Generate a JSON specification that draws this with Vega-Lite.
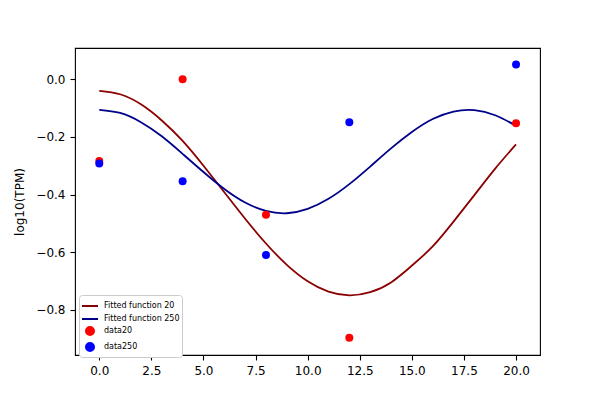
{
  "$schema": "https://vega.github.io/schema/vega-lite/v6.json",
  "autosize": "none",
  "width": 465,
  "height": 307,
  "padding": {"left": 75, "top": 48, "right": 60, "bottom": 45},
  "background": "white",
  "datasets": {
    "fits": [
      {"t": 0, "v": -0.040, "series": "Fitted function 20"},
      {"t": 1, "v": -0.052, "series": "Fitted function 20"},
      {"t": 2, "v": -0.087, "series": "Fitted function 20"},
      {"t": 3, "v": -0.143, "series": "Fitted function 20"},
      {"t": 4, "v": -0.214, "series": "Fitted function 20"},
      {"t": 5, "v": -0.300, "series": "Fitted function 20"},
      {"t": 6, "v": -0.392, "series": "Fitted function 20"},
      {"t": 7, "v": -0.484, "series": "Fitted function 20"},
      {"t": 8, "v": -0.570, "series": "Fitted function 20"},
      {"t": 9, "v": -0.644, "series": "Fitted function 20"},
      {"t": 10, "v": -0.701, "series": "Fitted function 20"},
      {"t": 11, "v": -0.737, "series": "Fitted function 20"},
      {"t": 12, "v": -0.750, "series": "Fitted function 20"},
      {"t": 13, "v": -0.739, "series": "Fitted function 20"},
      {"t": 14, "v": -0.705, "series": "Fitted function 20"},
      {"t": 15, "v": -0.647, "series": "Fitted function 20"},
      {"t": 16, "v": -0.580, "series": "Fitted function 20"},
      {"t": 17, "v": -0.494, "series": "Fitted function 20"},
      {"t": 18, "v": -0.402, "series": "Fitted function 20"},
      {"t": 19, "v": -0.310, "series": "Fitted function 20"},
      {"t": 20, "v": -0.226, "series": "Fitted function 20"},
      {"t": 0, "v": -0.106, "series": "Fitted function 250"},
      {"t": 1, "v": -0.117, "series": "Fitted function 250"},
      {"t": 2, "v": -0.149, "series": "Fitted function 250"},
      {"t": 3, "v": -0.198, "series": "Fitted function 250"},
      {"t": 4, "v": -0.259, "series": "Fitted function 250"},
      {"t": 5, "v": -0.322, "series": "Fitted function 250"},
      {"t": 6, "v": -0.381, "series": "Fitted function 250"},
      {"t": 7, "v": -0.428, "series": "Fitted function 250"},
      {"t": 8, "v": -0.457, "series": "Fitted function 250"},
      {"t": 9, "v": -0.465, "series": "Fitted function 250"},
      {"t": 10, "v": -0.450, "series": "Fitted function 250"},
      {"t": 11, "v": -0.415, "series": "Fitted function 250"},
      {"t": 12, "v": -0.364, "series": "Fitted function 250"},
      {"t": 13, "v": -0.303, "series": "Fitted function 250"},
      {"t": 14, "v": -0.240, "series": "Fitted function 250"},
      {"t": 15, "v": -0.183, "series": "Fitted function 250"},
      {"t": 16, "v": -0.138, "series": "Fitted function 250"},
      {"t": 17, "v": -0.112, "series": "Fitted function 250"},
      {"t": 18, "v": -0.107, "series": "Fitted function 250"},
      {"t": 19, "v": -0.125, "series": "Fitted function 250"},
      {"t": 20, "v": -0.161, "series": "Fitted function 250"}
    ],
    "measured": [
      {"t": 0, "v": -0.284, "series": "data20"},
      {"t": 4, "v": 0.0, "series": "data20"},
      {"t": 8, "v": -0.470, "series": "data20"},
      {"t": 12, "v": -0.897, "series": "data20"},
      {"t": 20, "v": -0.153, "series": "data20"},
      {"t": 0, "v": -0.292, "series": "data250"},
      {"t": 4, "v": -0.354, "series": "data250"},
      {"t": 8, "v": -0.610, "series": "data250"},
      {"t": 12, "v": -0.149, "series": "data250"},
      {"t": 20, "v": 0.051, "series": "data250"}
    ]
  },
  "encoding": {
    "x": {
      "field": "t",
      "type": "quantitative",
      "scale": {"domain": [-1.165, 21.15], "nice": false, "zero": false},
      "axis": {"title": null, "values": [0, 2.5, 5, 7.5, 10, 12.5, 15, 17.5, 20], "format": ".1f"}
    },
    "y": {
      "field": "v",
      "type": "quantitative",
      "scale": {"domain": [-0.957, 0.1085], "nice": false, "zero": false},
      "axis": {"title": "log10(TPM)", "values": [-0.8, -0.6, -0.4, -0.2, 0], "format": ".1f"}
    }
  },
  "layer": [
    {
      "data": {"name": "fits"},
      "mark": {"type": "line", "interpolate": "natural", "strokeWidth": 1.8},
      "encoding": {
        "color": {
          "field": "series",
          "type": "nominal",
          "scale": {
            "domain": ["Fitted function 20", "Fitted function 250", "data20", "data250"],
            "range": ["#8b0000", "#00008b", "#ff0000", "#0000ff"]
          },
          "legend": {
            "encode": {
              "symbols": {
                "update": {
                  "fill": {"value": {"expr": "scale('color', datum.value)"}},
                  "stroke": {"value": {"expr": "scale('color', datum.value)"}},
                  "opacity": {"value": 1},
                  "strokeWidth": {"value": 2}
                }
              }
            }
          }
        }
      }
    },
    {
      "data": {"name": "measured"},
      "mark": {"type": "point", "filled": true, "opacity": 1},
      "encoding": {
        "color": {"field": "series", "type": "nominal"},
        "shape": {
          "field": "series",
          "type": "nominal",
          "scale": {
            "domain": ["Fitted function 20", "Fitted function 250", "data20", "data250"],
            "range": ["stroke", "stroke", "circle", "circle"]
          }
        },
        "size": {
          "field": "series",
          "type": "nominal",
          "scale": {
            "type": "ordinal",
            "domain": ["Fitted function 20", "Fitted function 250", "data20", "data250"],
            "range": [256, 256, 64, 64]
          }
        }
      }
    }
  ],
  "config": {
    "font": "DejaVu Sans",
    "view": {"stroke": "black", "strokeWidth": 1.1},
    "axis": {
      "grid": false,
      "domain": false,
      "tickColor": "black",
      "tickSize": 5,
      "tickWidth": 1.1,
      "labelColor": "black",
      "labelFont": "DejaVu Sans",
      "labelFontSize": 12,
      "labelPadding": 5,
      "labelFlush": false,
      "labelOverlap": false,
      "titleFont": "DejaVu Sans",
      "titleFontSize": 12,
      "titleFontWeight": "normal",
      "titleColor": "black",
      "titlePadding": 9
    },
    "legend": {
      "title": null,
      "orient": "none",
      "legendX": 4,
      "legendY": 247,
      "fillColor": "white",
      "strokeColor": "#cccccc",
      "cornerRadius": 3,
      "padding": 2,
      "labelFont": "DejaVu Sans",
      "labelFontSize": 8,
      "labelColor": "black",
      "labelOffset": 5,
      "rowPadding": 0
    }
  }
}
